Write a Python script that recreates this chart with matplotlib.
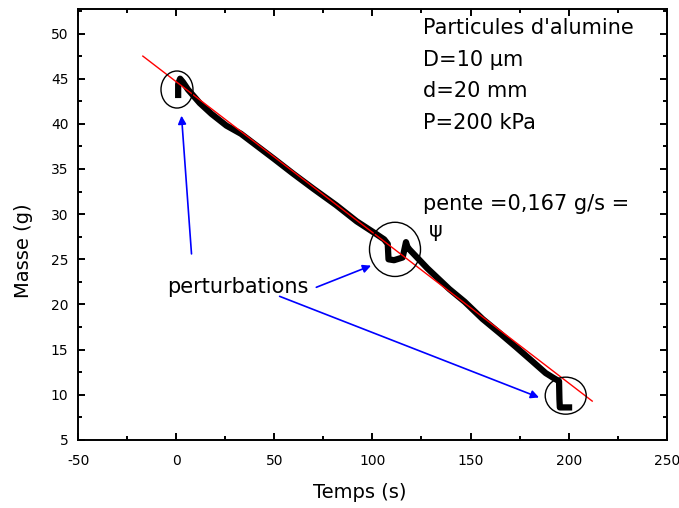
import matplotlib
matplotlib.use('Agg')
import matplotlib.pyplot as plt
from matplotlib.pyplot import MultipleLocator
from matplotlib.patches import Ellipse

temps = [1.0, 1.0, 2.0, 3.5, 6, 12, 18, 25.6, 33, 40.9, 50, 59.5, 70, 81.5, 92,
         101.9, 106, 107.8, 108.2, 111, 115.4, 117.1, 117.8, 118.8, 128, 139.2,
         147, 156.1, 165, 173.1, 181, 188.3, 192, 195.1, 195.3, 195.5, 200.2]
masse = [43.2, 44.4, 45.0, 44.6, 43.8, 42.3, 41.1, 39.8, 38.9, 37.6, 36.1, 34.5,
         32.8, 31.0, 29.2, 27.8, 27.2, 26.7, 25.0, 24.9, 25.2, 26.9, 26.4, 26.1,
         24.0, 21.7, 20.3, 18.4, 16.8, 15.3, 13.8, 12.4, 11.9, 11.5, 9.5, 8.6, 8.6]

# droite de regression
fit_t = [-17, 212]
fit_m = [47.5, 9.3]

# perturbations (centre x, centre y)
pert_x = [0.4, 111.5, 198.5]
pert_y = [43.8, 26.1, 9.9]

infos = ["Particules d'alumine", "D=10 µm", "d=20 mm", "P=200 kPa"]

plt.rcParams['font.family'] = ['DejaVu Sans']
plt.rcParams['axes.unicode_minus'] = False

fig = plt.figure(figsize=(6.79, 5.08), dpi=100)
ax = fig.add_axes([0.115, 0.134, 0.867, 0.848])

ax.plot(temps, masse, color='black', lw=4.5, solid_joinstyle='round', zorder=3)
ax.plot(fit_t, fit_m, color='red', lw=1, zorder=4)

sizes = [(16.3, 4.1), (26, 6.0), (20.9, 4.1)]
for (cx, cy), (w, h) in zip(zip(pert_x, pert_y), sizes):
    ax.add_patch(Ellipse((cx, cy), w, h, fill=False, ec='black', lw=1, zorder=5))

arrow = dict(arrowstyle='-|>', color='blue', lw=1.2, mutation_scale=12,
             shrinkA=0, shrinkB=0)
ax.annotate('', xy=(2.7, 40.9), xytext=(7.8, 25.6), arrowprops=arrow)
ax.annotate('', xy=(99.3, 24.3), xytext=(71.4, 21.9), arrowprops=arrow)
ax.annotate('', xy=(184.9, 9.7), xytext=(52.7, 20.9), arrowprops=arrow)

ax.text(-4.7, 21.9, 'perturbations', fontsize=15, va='center')
ax.text(125.9, 31.1, 'pente =0,167 g/s =', fontsize=15, va='center')
ax.text(129, 28.1, 'ψ', fontsize=15, va='center')
for i, s in enumerate(infos):
    ax.text(125.9, 50.6 - 3.5 * i, s, fontsize=15, va='center')

ax.set_xlim(-50, 250)
ax.set_ylim(5, 52.7)
ax.xaxis.set_major_locator(MultipleLocator(50))
ax.xaxis.set_minor_locator(MultipleLocator(25))
ax.yaxis.set_major_locator(MultipleLocator(5))
ax.yaxis.set_minor_locator(MultipleLocator(2.5))
ax.tick_params(which='both', direction='in', top=True, right=True, width=1.4,
               labelsize=10)
ax.tick_params(which='major', length=5)
ax.tick_params(which='minor', length=3)
ax.tick_params(axis='x', pad=10)
ax.tick_params(axis='y', pad=7)
for sp in ax.spines.values():
    sp.set_linewidth(1.4)

ax.set_xlabel('Temps (s)', fontsize=14)
ax.set_ylabel('Masse (g)', fontsize=14)
ax.xaxis.set_label_coords(0.479, -0.10)
ax.yaxis.set_label_coords(-0.076, 0.44)

fig.savefig('out.png', dpi=100)
